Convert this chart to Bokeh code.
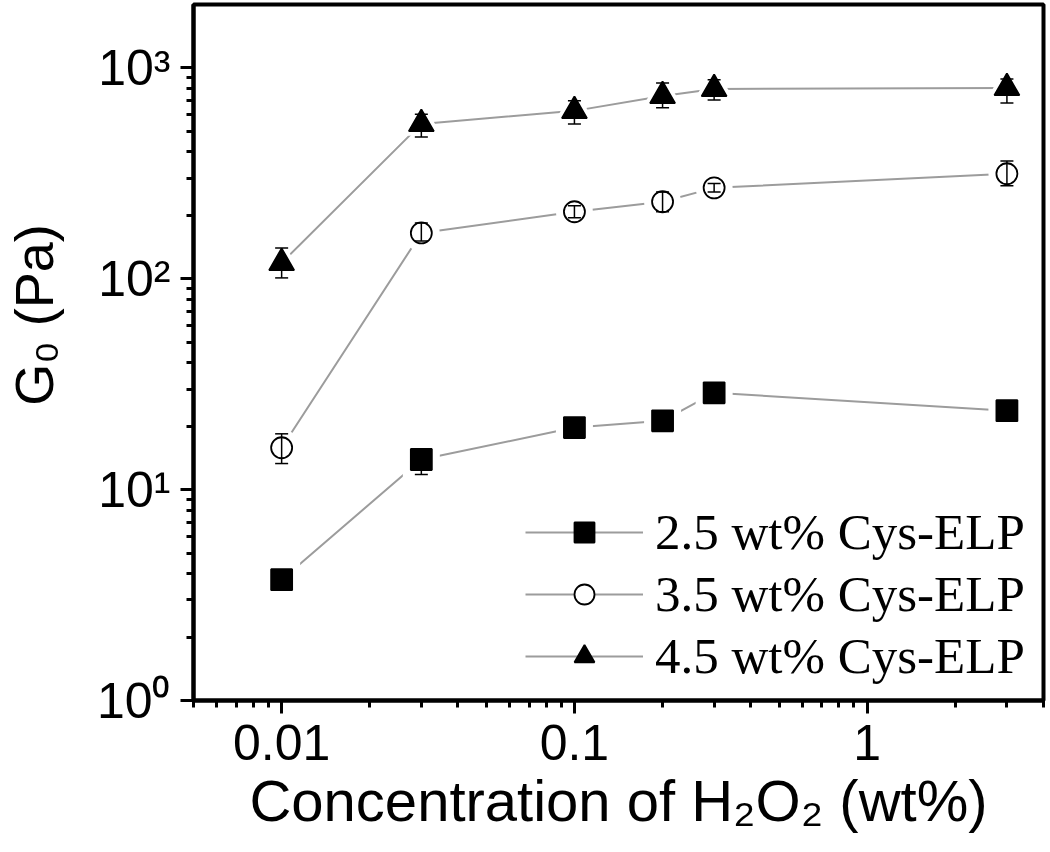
from bokeh.plotting import figure
from bokeh.models import FixedTicker, Legend, LegendItem
from bokeh.embed import file_html
from bokeh.resources import INLINE

# ---------------- data ----------------
conc = [0.01, 0.03, 0.1, 0.2, 0.3, 3]

g_25 = [3.74, 13.9, 19.7, 21.2, 28.8, 23.7]
g_25_lo = [3.5, 11.8, 18.6, 20.1, 27.3, 22.6]
g_25_hi = [4.0, 15.6, 20.9, 22.4, 30.4, 24.9]

g_35 = [15.8, 165, 208, 232, 270, 315]
g_35_lo = [13.3, 151, 195, 208, 258, 276]
g_35_hi = [18.4, 184, 222, 258, 283, 362]

g_45 = [119, 543, 626, 737, 795, 804]
g_45_lo = [101, 471, 543, 647, 705, 682]
g_45_hi = [140, 604, 700, 849, 880, 887]

labels = ["2.5 wt% Cys-ELP", "3.5 wt% Cys-ELP", "4.5 wt% Cys-ELP"]

x_ticks = [0.01, 0.1, 1]
x_tick_labels = ["0.01", "0.1", "1"]
x_minor = [0.005, 0.006, 0.007, 0.008, 0.009,
           0.02, 0.03, 0.04, 0.05, 0.06, 0.07, 0.08, 0.09,
           0.2, 0.3, 0.4, 0.5, 0.6, 0.7, 0.8, 0.9, 2, 3, 4]
y_ticks = [1, 10, 100, 1000]
y_tick_labels = ["10\u2070", "10\u00b9", "10\u00b2", "10\u00b3"]
y_minor = [2, 3, 4, 5, 6, 7, 8, 9, 20, 30, 40, 50, 60, 70, 80, 90,
           200, 300, 400, 500, 600, 700, 800, 900]

x_title = "Concentration of H\u2082O\u2082 (wt%)"
y_title = "\u00a0" * 5 + "G\u2080 (Pa)"

SANS = "Liberation Sans"
SERIF = "Liberation Serif"

p = figure(width=1048, height=852, x_axis_type="log", y_axis_type="log",
           x_range=(0.005, 4), y_range=(1, 2000),
           output_backend="svg", toolbar_location=None,
           min_border_left=188, min_border_right=5,
           min_border_top=4, min_border_bottom=152)
p.background_fill_color = "white"
p.border_fill_color = "white"
p.outline_line_color = "black"
p.outline_line_width = 4
p.xgrid.visible = False
p.ygrid.visible = False

# axes
p.xaxis.ticker = FixedTicker(ticks=x_ticks, minor_ticks=x_minor)
p.xaxis.major_label_overrides = {t: s for t, s in zip(x_ticks, x_tick_labels)}
p.yaxis.ticker = FixedTicker(ticks=y_ticks, minor_ticks=y_minor)
p.yaxis.major_label_overrides = {t: s for t, s in zip(y_ticks, y_tick_labels)}

for ax in (p.xaxis[0], p.yaxis[0]):
    ax.axis_line_width = 4
    ax.axis_line_color = "black"
    ax.major_tick_line_width = 3
    ax.minor_tick_line_width = 3
    ax.major_tick_line_color = "black"
    ax.minor_tick_line_color = "black"
    ax.major_tick_in = 0
    ax.minor_tick_in = 0
    ax.major_tick_out = 13
    ax.minor_tick_out = 7
    ax.major_label_text_font = SANS
    ax.major_label_text_font_size = "50px"
    ax.major_label_text_color = "black"
    ax.axis_label_text_font = SANS
    ax.axis_label_text_font_style = "normal"
    ax.axis_label_text_color = "black"

p.xaxis.major_label_standoff = 11
p.yaxis.major_label_standoff = 10
p.xaxis.axis_label = x_title
p.xaxis.axis_label_text_font_size = "58px"
p.xaxis.axis_label_standoff = 5
p.yaxis.axis_label = y_title
p.yaxis.axis_label_text_font_size = "54px"
p.yaxis.axis_label_standoff = 30

# series
series = [
    (g_25, g_25_lo, g_25_hi, "square", 21, "black", "black"),
    (g_35, g_35_lo, g_35_hi, "circle", 21, None, "black"),
    (g_45, g_45_lo, g_45_hi, "triangle", 25, "black", "black"),
]
LINE = "#9c9c9c"
items = []
for (g, lo, hi, mk, sz, fc, lc), lab in zip(series, labels):
    ln = p.line(conc, g, line_color=LINE, line_width=2)
    gap = p.scatter(conc, g, marker=mk, size=sz + 16, fill_color="white",
                    line_color=None)
    p.segment(conc, lo, conc, hi, line_color="black", line_width=1.5)
    p.scatter(conc, lo, marker="dash", size=13, line_color="black", line_width=1.5)
    p.scatter(conc, hi, marker="dash", size=13, line_color="black", line_width=1.5)
    mr = p.scatter(conc, g, marker=mk, size=sz,
                   fill_color=fc if fc else "white", fill_alpha=1 if fc else 0,
                   line_color=lc, line_width=1.8)
    items.append(LegendItem(label=lab, renderers=[ln, gap, mr]))

legend = Legend(items=items, location=(332, 15),
                glyph_width=118, glyph_height=50, label_height=50,
                label_standoff=12, spacing=4, padding=0, margin=0,
                border_line_color=None, background_fill_alpha=0,
                label_text_font=SERIF, label_text_font_size="51px",
                label_text_color="black")
p.add_layout(legend)

open("out.html", "w").write(file_html(p, INLINE))
